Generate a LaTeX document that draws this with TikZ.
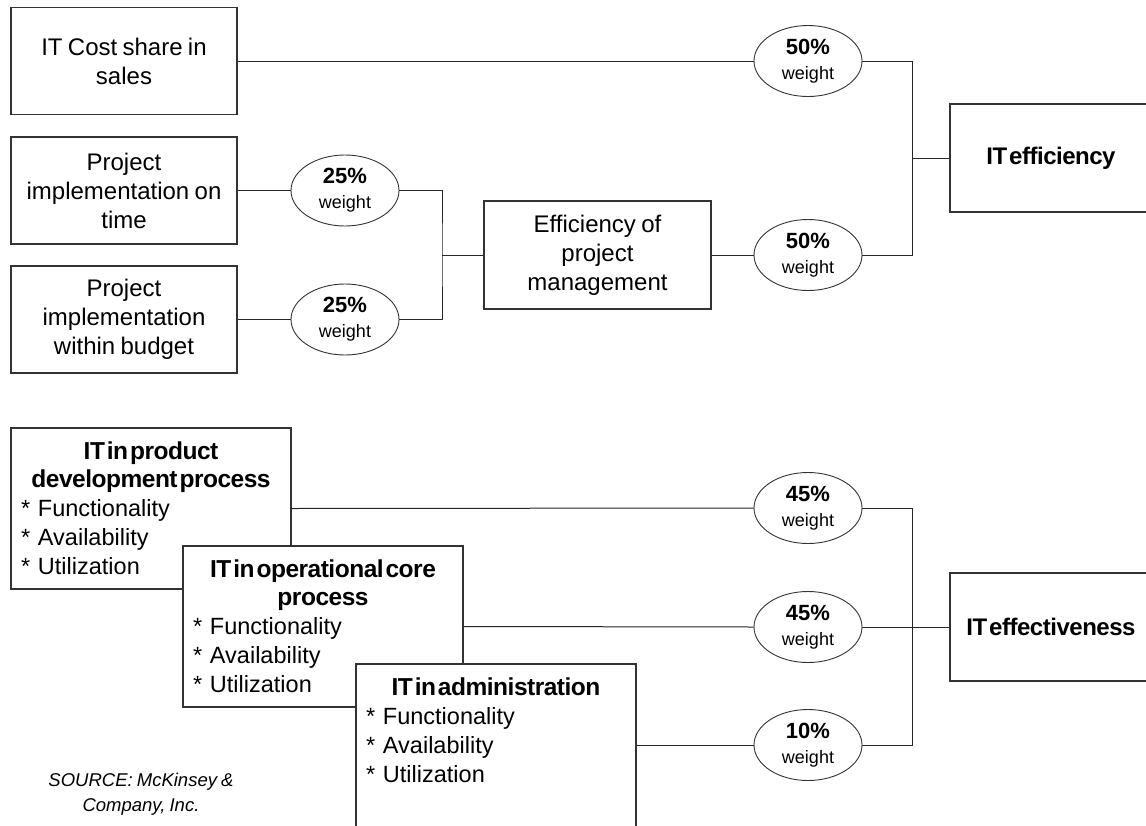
\documentclass[tikz,border=0pt]{standalone}
\usepackage{fontspec}
\setmainfont{Liberation Sans}[WordSpace=0.8]
\newfontfamily\hdfont{Liberation Sans}[WordSpace=0.3, LetterSpace=-2]
\usetikzlibrary{shapes.geometric}

\tikzset{
  conn/.style={line width=1pt, draw=black!85},
  box/.style={draw=black!80, line width=1.1pt, fill=white, inner sep=0pt,
    align=center, font=\fontsize{24}{29}\selectfont},
  wt/.style={ellipse, draw=black!80, line width=0.9pt, fill=white, inner sep=0pt,
    minimum width=108pt, minimum height=71pt, align=center,
    font=\fontsize{18}{25}\selectfont},
  listtxt/.style={anchor=north, text width=260pt, inner sep=0pt, align=left,
    font=\fontsize{23.5}{29}\selectfont},
  srctxt/.style={align=center, font=\fontsize{18.5}{25}\selectfont\itshape}
}
\newcommand{\wlabel}[1]{{\fontsize{22}{25}\selectfont\bfseries #1}\\weight}
% bold headings with the font's own narrow word space
\newcommand{\hd}[1]{{\hdfont\bfseries\spaceskip=0pt\xspaceskip=0pt #1}}
\newcommand{\cardhd}[1]{{\centering\fontsize{24.5}{28.5}\selectfont\hd{#1}\par}}

\begin{document}
\begin{tikzpicture}[x=1pt, y=-1pt]
\useasboundingbox[fill=white] (0,0) rectangle (1146,825);

% ---- IT efficiency branch ----
\node[box, minimum width=226pt, minimum height=107pt] (cost) at (124,61) {IT Cost share in\\sales};
\node[box, minimum width=226pt, minimum height=107pt] (ontime) at (124,190.5) {Project\\implementation on\\time};
\node[box, minimum width=226pt, minimum height=107pt] (budget) at (124,319.5) {Project\\implementation\\within budget};

\node[wt] (e25a) at (345,190.5) {\wlabel{25\%}};
\node[wt] (e25b) at (345,319.5) {\wlabel{25\%}};

\node[box, minimum width=227pt, minimum height=108pt] (pm) at (597.5,255) {Efficiency of\\project\\management};

\node[wt] (e50a) at (808,61) {\wlabel{50\%}};
\node[wt] (e50b) at (808,255) {\wlabel{50\%}};

\node[box, minimum width=202pt, minimum height=108pt] (eff) at (1051,158) {\hd{IT efficiency}};

\coordinate (j1) at (442,255);
\coordinate (j2) at (912,158);

\draw[conn] (ontime.east) -- (e25a.west);
\draw[conn] (budget.east) -- (e25b.west);
\draw[conn] (e25a.east) -| (j1) |- (e25b.east);
\draw[conn] (j1) -- (pm.west);
\draw[conn] (pm.east) -- (e50b.west);
\draw[conn] (cost.east) -- (e50a.west);
\draw[conn] (e50a.east) -| (j2) |- (e50b.east);
\draw[conn] (j2) -- (eff.west);

% ---- IT effectiveness branch (overlapping cards) ----
\node[box, minimum width=280pt, minimum height=161pt] (prod) at (151,508.5) {};
\node[listtxt] (prodtxt) at ([yshift=-14pt]prod.north)
  {\cardhd{IT in product\\development process}
   {*} Functionality\\{*} Availability\\{*} Utilization};

\node[box, minimum width=280pt, minimum height=161pt] (oper) at (323,626.5) {};
\node[listtxt] (opertxt) at ([yshift=-14pt]oper.north)
  {\cardhd{IT in operational core\\process}
   {*} Functionality\\{*} Availability\\{*} Utilization};

\node[box, minimum width=280pt, minimum height=172pt] (admin) at (496,750) {};
\node[listtxt] (admintxt) at ([yshift=-14pt]admin.north)
  {\cardhd{IT in administration}
   {*} Functionality\\{*} Availability\\{*} Utilization};

\node[wt] (e45a) at (808,508) {\wlabel{45\%}};
\node[wt] (e45b) at (808,627) {\wlabel{45\%}};
\node[wt] (e10) at (808,745) {\wlabel{10\%}};

\node[box, minimum width=202pt, minimum height=108pt] (effect) at (1051,627) {\hd{IT effectiveness}};

\coordinate (j3) at (912,627);

\draw[conn] (prod.east) -- (e45a.west);
\draw[conn] (oper.east) -- (e45b.west);
\draw[conn] (admin.east |- e10.west) -- (e10.west);
\draw[conn] (e45a.east) -| (j3) |- (e10.east);
\draw[conn] (e45b.east) -- (effect.west);

\node[srctxt] (src) at (141,794) {SOURCE: McKinsey \&\\Company, Inc.};
\end{tikzpicture}
\end{document}
